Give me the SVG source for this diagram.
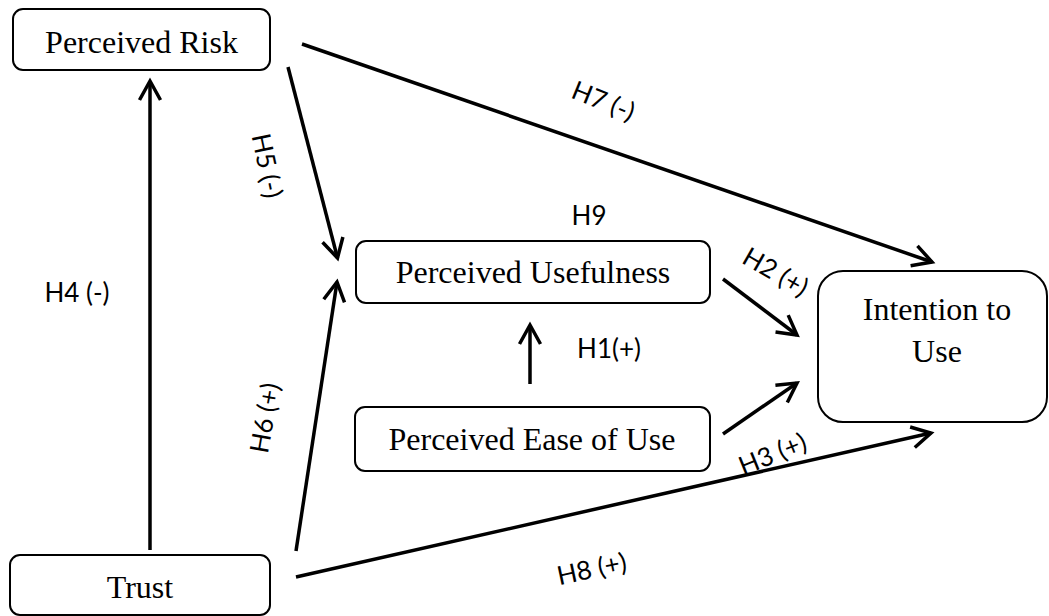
<svg xmlns="http://www.w3.org/2000/svg" width="1049" height="616" viewBox="0 0 1049 616">
<style>
.box{fill:#fff;stroke:#000;stroke-width:2}
.nt{font-family:"Liberation Serif","Times New Roman",serif;font-size:32px;text-anchor:middle;fill:#000}
.lb{font-family:Lato,"Open Sans",sans-serif;font-size:26px;text-anchor:middle;fill:#000}
.cn{stroke:#000;stroke-width:3.5;fill:none;marker-end:url(#ah)}
</style>
<defs>
<marker id="ah" markerUnits="userSpaceOnUse" markerWidth="26" markerHeight="26" viewBox="0 0 26 26" refX="22" refY="13" orient="auto">
<path d="M3 2.5 L22 13 L3 23.5" fill="none" stroke="#000" stroke-width="3.5"/>
</marker>
</defs>
<rect width="1049" height="616" fill="#fff"/>
<g id="connectors">
<line class="cn" x1="150" y1="550" x2="150" y2="81"/>
<line class="cn" x1="288" y1="67" x2="337.5" y2="258"/>
<line class="cn" x1="296" y1="551" x2="337" y2="282"/>
<line class="cn" x1="302" y1="44" x2="932" y2="262"/>
<line class="cn" x1="723" y1="279" x2="797" y2="335"/>
<line class="cn" x1="530" y1="384" x2="530" y2="325"/>
<line class="cn" x1="723" y1="434" x2="797" y2="383"/>
<line class="cn" x1="296" y1="577" x2="931" y2="433"/>
</g>
<g id="labels">
<text class="lb" x="77" y="302">H4 (-)</text>
<text class="lb" transform="translate(266,166) rotate(78)" y="8">H5 (-)</text>
<text class="lb" transform="translate(266,418) rotate(-80)" y="8">H6 (+)</text>
<text class="lb" transform="translate(603,102) rotate(22)" y="8">H7 (-)</text>
<text class="lb" x="589" y="225">H9</text>
<text class="lb" transform="translate(775,273) rotate(30)" y="8">H2 (+)</text>
<text class="lb" x="609" y="358">H1(+)</text>
<text class="lb" transform="translate(773,455) rotate(-22)" y="8">H3 (+)</text>
<text class="lb" transform="translate(592,570) rotate(-12)" y="8">H8 (+)</text>
</g>
<g id="node-risk">
<rect class="box" x="13" y="9" width="257" height="61" rx="10"/>
<text class="nt" x="141.5" y="53">Perceived Risk</text>
</g>
<g id="node-usefulness">
<rect class="box" x="356" y="241" width="354" height="62" rx="10"/>
<text class="nt" x="533" y="283">Perceived Usefulness</text>
</g>
<g id="node-ease">
<rect class="box" x="355" y="407" width="355" height="64" rx="10"/>
<text class="nt" x="532" y="450">Perceived Ease of Use</text>
</g>
<g id="node-intention">
<rect class="box" x="818" y="271" width="229" height="151" rx="25"/>
<text class="nt" x="937" y="320">Intention to</text>
<text class="nt" x="937" y="362">Use</text>
</g>
<g id="node-trust">
<rect class="box" x="10" y="555" width="260" height="60" rx="10"/>
<text class="nt" x="140" y="598">Trust</text>
</g>
</svg>
